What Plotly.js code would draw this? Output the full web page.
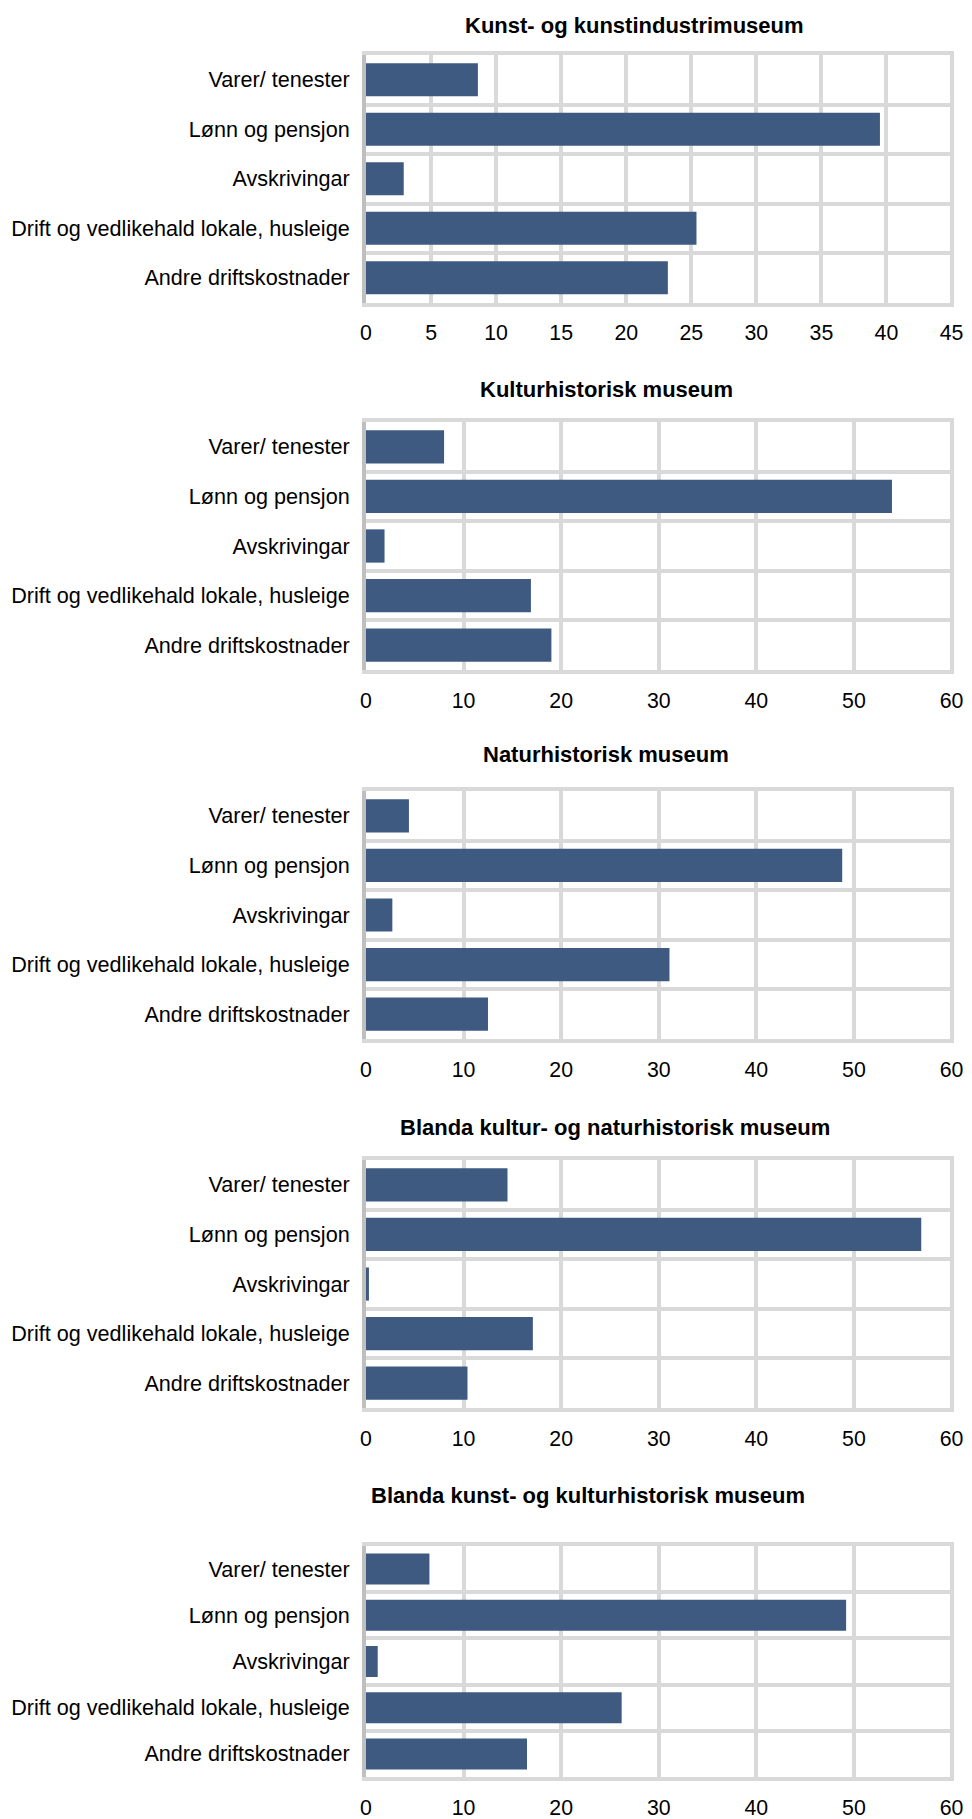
<!DOCTYPE html>
<html>
<head>
<meta charset="utf-8">
<script src="https://cdn.plot.ly/plotly-3.0.1.min.js"></script>
<style>
  html, body { margin: 0; padding: 0; background: #ffffff; }
  #chart { width: 972px; height: 1819px; }
</style>
</head>
<body>
<div id="chart"></div>
<script>
// ---- data ----
const categories = [
  "Varer/ tenester",
  "Lønn og pensjon",
  "Avskrivingar",
  "Drift og vedlikehald lokale, husleige",
  "Andre driftskostnader"
];
const titles = [
  "Kunst- og kunstindustrimuseum",
  "Kulturhistorisk museum",
  "Naturhistorisk museum",
  "Blanda kultur- og naturhistorisk museum",
  "Blanda kunst- og kulturhistorisk museum"
];
const kunstValues = [8.6, 39.5, 2.9, 25.4, 23.2];
const kulturValues = [8.0, 53.9, 1.9, 16.9, 19.0];
const naturValues = [4.4, 48.8, 2.7, 31.1, 12.5];
const blandaKulturNaturValues = [14.5, 56.9, 0.3, 17.1, 10.4];
const blandaKunstKulturValues = [6.5, 49.2, 1.2, 26.2, 16.5];
const seriesValues = [kunstValues, kulturValues, naturValues, blandaKulturNaturValues, blandaKunstKulturValues];
const axisMax = [45, 60, 60, 60, 60];
const axisStep = [5, 10, 10, 10, 10];

// ---- layout geometry (pixels) ----
const W = 972, H = 1819;
const plotLeft = 366, rightLine = 951.5;
const lineTops = [53, 420, 789, 1158, 1544];
const lineBottoms = [304.5, 672, 1041, 1410, 1779];
const titleY = [25, 389, 755, 1127, 1495];
const titleX = [634, 606, 606, 615, 588];
const ext = 1.005;

const FONT = "'Liberation Sans', Arial, Helvetica, sans-serif";
const BAR = "#3e5a81";
const GRID = "#d9d9d9";

const traces = [];
const layout = {
  width: W, height: H,
  margin: {l: 0, r: 0, t: 0, b: 0, pad: 0},
  paper_bgcolor: "#ffffff",
  plot_bgcolor: "#ffffff",
  showlegend: false,
  hovermode: false,
  font: {family: FONT, size: 21.6, color: "#000000"},
  annotations: []
};

for (let i = 0; i < 5; i++) {
  const sx = i === 0 ? "" : String(i + 1);
  traces.push({
    type: "bar",
    orientation: "h",
    y: categories,
    x: seriesValues[i],
    xaxis: "x" + sx,
    yaxis: "y" + sx,
    marker: {color: BAR, line: {width: 0}},
    hoverinfo: "skip"
  });
  const top = lineTops[i] + 2, bottom = lineBottoms[i] - 2;
  const rightEdge = plotLeft + (rightLine - plotLeft) * ext;
  layout["xaxis" + sx] = {
    domain: [plotLeft / W, rightEdge / W],
    anchor: "y" + sx,
    range: [0, axisMax[i] * ext],
    tickmode: "linear", tick0: 0, dtick: axisStep[i],
    showgrid: true, gridcolor: GRID, gridwidth: 4,
    zeroline: false,
    showline: true, mirror: true, linecolor: GRID, linewidth: 4,
    ticks: "",
    ticklabelstandoff: 8,
    tickfont: {family: FONT, size: 21.3, color: "#000000"},
    fixedrange: true
  };
  layout["yaxis" + sx] = {
    domain: [1 - bottom / H, 1 - top / H],
    anchor: "x" + sx,
    type: "category",
    categoryorder: "array",
    categoryarray: categories,
    autorange: "reversed",
    tickson: "boundaries",
    showgrid: true, gridcolor: GRID, gridwidth: 4,
    zeroline: false,
    showline: true, linecolor: "#bfbfbf", linewidth: 4,
    ticks: "",
    ticklabelstandoff: 8,
    tickfont: {family: FONT, size: 21.6, color: "#000000"},
    fixedrange: true
  };
  layout.annotations.push({
    text: "<b>" + titles[i] + "</b>",
    xref: "paper", yref: "paper",
    x: titleX[i] / W, y: 1 - titleY[i] / H,
    xanchor: "center", yanchor: "middle",
    showarrow: false,
    font: {family: FONT, size: 22, color: "#000000"}
  });
}
layout.bargap = 0.33;

Plotly.newPlot("chart", traces, layout, {displayModeBar: false, staticPlot: true});
</script>
</body>
</html>
